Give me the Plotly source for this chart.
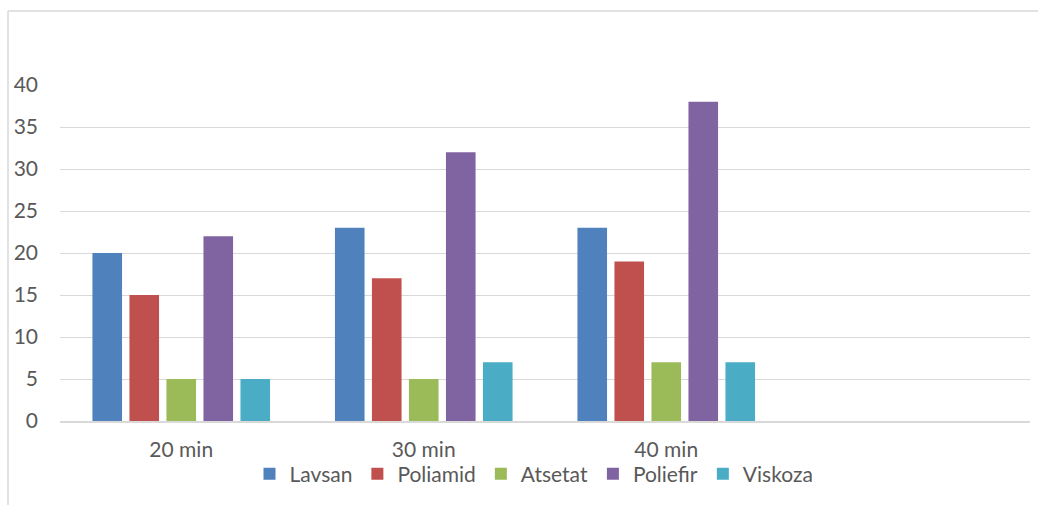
import plotly.graph_objects as go

categories = ["20 min", "30 min", "40 min"]
series_names = ["Lavsan", "Poliamid", "Atsetat", "Poliefir", "Viskoza"]
lavsan = [20, 23, 23]
poliamid = [15, 17, 19]
atsetat = [5, 5, 7]
poliefir = [22, 32, 38]
viskoza = [5, 7, 7]
y_ticks = [0, 5, 10, 15, 20, 25, 30, 35, 40]

colors = ["#4F81BD", "#C0504D", "#9BBB59", "#8064A2", "#4BACC6"]
values = [lavsan, poliamid, atsetat, poliefir, viskoza]

W, H = 1038, 505
L, R, T, B = 60, 8, 85, 84
pw, ph = W - L - R, H - T - B

fig = go.Figure()
for name, vals, c in zip(series_names, values, colors):
    fig.add_trace(go.Bar(x=categories, y=vals, name=name,
                         marker=dict(color=c, line=dict(width=0))))

font = "Lato, 'Open Sans', sans-serif"
fs = 21
fig.update_layout(
    width=W, height=H,
    margin=dict(l=L, r=R, t=T, b=B, pad=0),
    paper_bgcolor="white", plot_bgcolor="white",
    barmode="group", bargap=0.237, bargroupgap=0.2,
    font=dict(family=font, size=fs, color="#595959"),
    showlegend=True,
    legend=dict(orientation="h", x=(534 - L) / pw, xanchor="center",
                y=(421 - 474) / ph, yanchor="middle",
                bgcolor="rgba(0,0,0,0)",
                font=dict(size=fs, color="#595959"),
                itemwidth=30, traceorder="normal"),
    xaxis=dict(type="category", range=[-0.5, 3.5], showgrid=False,
               showline=True, linecolor="#d9d9d9", linewidth=2,
               ticks="", ticklabelstandoff=9, tickfont=dict(size=fs)),
    yaxis=dict(range=[0, 40], tickvals=y_ticks, showgrid=True,
               gridcolor="#d9d9d9", gridwidth=1, zeroline=False,
               showline=False, ticks="", ticklabelstandoff=21,
               tickfont=dict(size=fs)),
)

# chart border (top and left edges visible)
bx = (8 - L) / pw
by = (421 - 11) / ph
fig.add_shape(type="line", xref="paper", yref="paper",
              x0=bx, x1=(W + 5 - L) / pw, y0=by, y1=by,
              line=dict(color="#d9d9d9", width=1.5))
fig.add_shape(type="line", xref="paper", yref="paper",
              x0=bx, x1=bx, y0=by, y1=(421 - H - 5) / ph,
              line=dict(color="#d9d9d9", width=1.5))

fig.write_html("out.html")
